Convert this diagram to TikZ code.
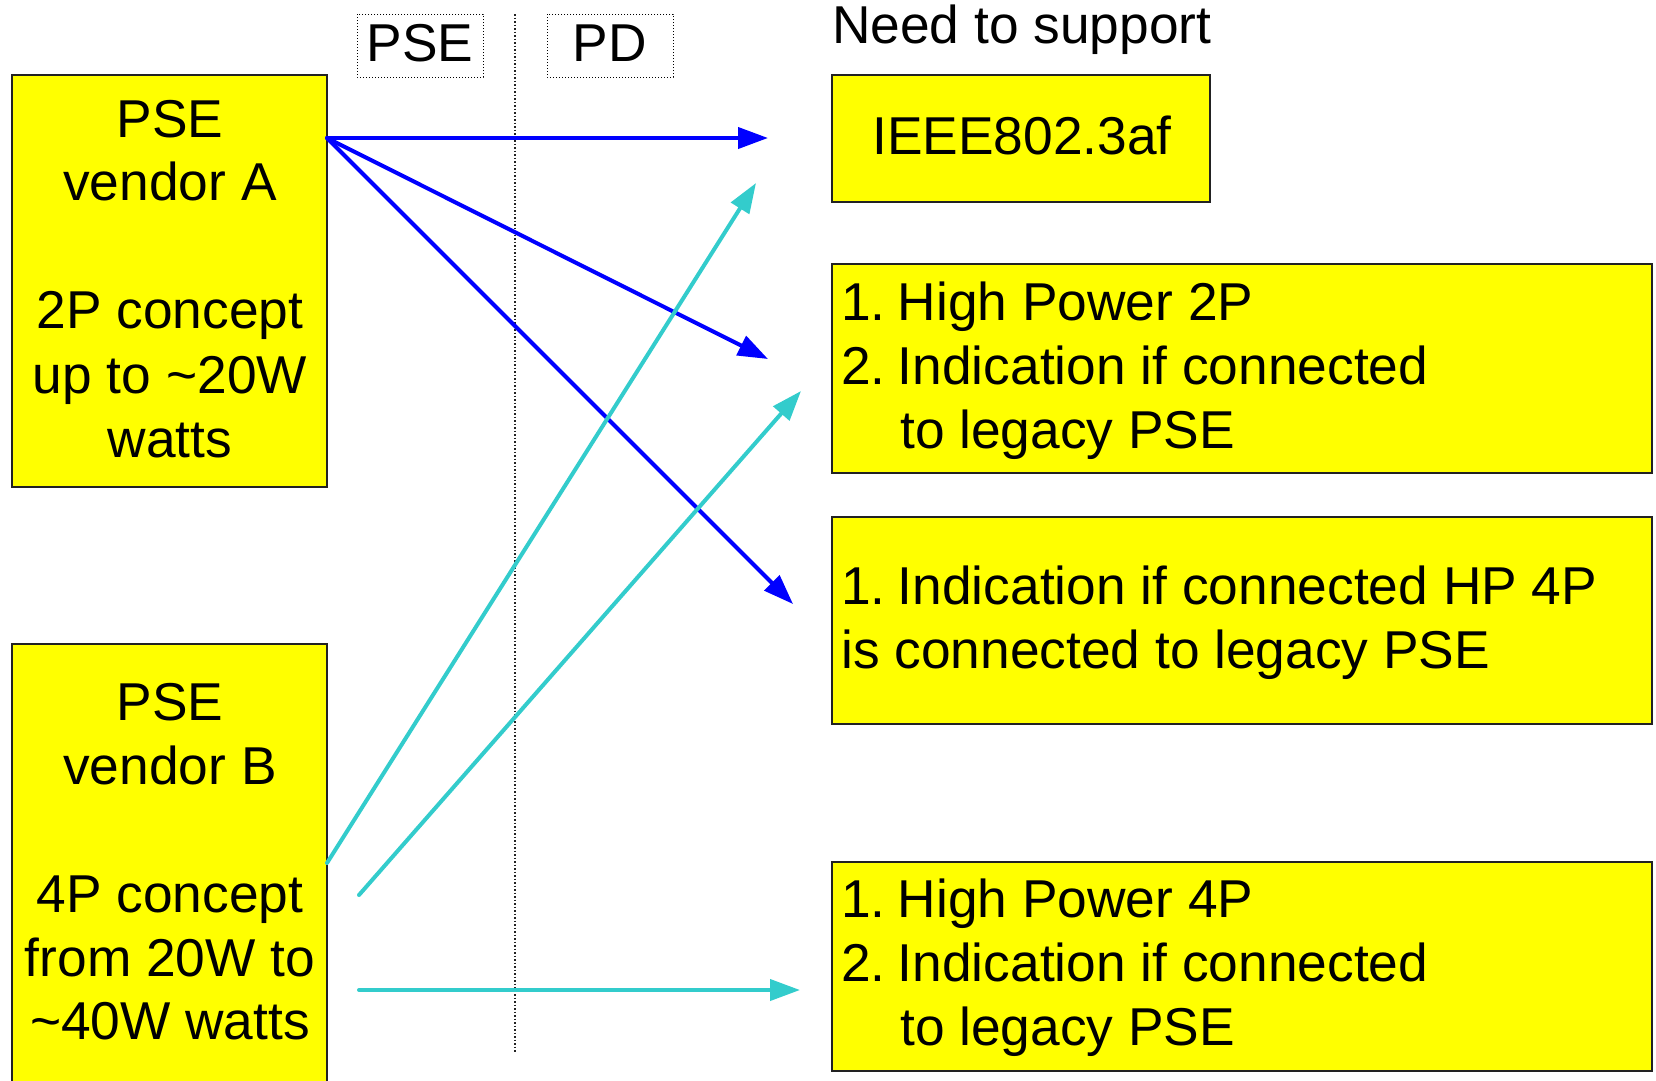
\documentclass[tikz,border=0pt]{standalone}
\usepackage{fontspec}
\setmainfont{Liberation Sans}
\usetikzlibrary{arrows.meta}

\definecolor{boxyellow}{RGB}{255,255,0}
\definecolor{linkblue}{RGB}{0,0,255}
\definecolor{linkcyan}{RGB}{51,204,204}
\definecolor{edgegray}{RGB}{34,34,34}

% list number followed by a narrow gap
\newcommand{\itemno}[1]{#1.\hspace{0.23em}}

\tikzset{
  box/.style={draw=edgegray, line width=1.5pt, fill=boxyellow},
  tag/.style={draw=black, dotted, line width=1pt},
  txt/.style={inner sep=0pt, font=\fontsize{53.3}{64}\selectfont},
  ctr/.style={txt, anchor=base},
  lft/.style={txt, anchor=base west},
  link/.style={line width=4pt, line cap=round, -{Triangle[length=30pt,width=21pt]}},
  bluelink/.style={link, draw=linkblue},
  cyanlink/.style={link, draw=linkcyan},
}

\begin{document}
\begin{tikzpicture}[x=1pt, y=-1pt]
\useasboundingbox (0,0) rectangle (1656,1080);

% PSE / PD split
\draw[edgegray, dotted, line width=1.5pt] (515,14) -- (515,1053);
\draw[tag] (357,14) rectangle (483,77);
\draw[tag] (547,14) rectangle (673,77);
\node[ctr] (tagpse) at (420,61) {PSE};
\node[ctr] (tagpd) at (610,61) {PD};

% PSE vendors
\draw[box] (12,75) rectangle (327,487);
\node[ctr] (a1) at (170,137) {PSE};
\node[ctr] (a2) at (170,200) {vendor A};
\node[ctr] (a3) at (170,328) {2P concept};
\node[ctr] (a4) at (170,393) {up to \textasciitilde20W};
\node[ctr] (a5) at (170,457) {watts};

\draw[box] (12,644) rectangle (327,1090);
\node[ctr] (b1) at (170,720) {PSE};
\node[ctr] (b2) at (170,784) {vendor B};
\node[ctr] (b3) at (170,912) {4P concept};
\node[ctr] (b4) at (170,976) {from 20W to};
\node[ctr] (b5) at (170,1039) {\textasciitilde40W watts};

% PD requirements
\node[lft] (need) at (832,43) {Need to support};

\draw[box] (832,75) rectangle (1210,202);
\node[ctr] (ieee) at (1022,154) {IEEE802.3af};

\draw[box] (832,264) rectangle (1652,473);
\node[lft] (r21) at (841,320) {\itemno{1}High Power 2P};
\node[lft] (r22) at (841,384) {\itemno{2}Indication if connected};
\node[lft] (r23) at (900,448) {to legacy PSE};

\draw[box] (832,517) rectangle (1652,724);
\node[lft] (r31) at (841,604) {\itemno{1}Indication if connected HP 4P};
\node[lft] (r32) at (841,668) {is connected to legacy PSE};

\draw[box] (832,862) rectangle (1652,1071);
\node[lft] (r41) at (841,917) {\itemno{1}High Power 4P};
\node[lft] (r42) at (841,981) {\itemno{2}Indication if connected};
\node[lft] (r43) at (900,1045) {to legacy PSE};

% connector ends
\coordinate (srcA) at (327,138);
\coordinate (srcB1) at (327,863);
\coordinate (srcB2) at (359,895);
\coordinate (srcB3) at (359,990);
\coordinate (toIeee) at (768,138);
\coordinate (to2P) at (768,359);
\coordinate (to4Pind) at (793,604);
\coordinate (toIeeeB) at (756,183);
\coordinate (to2PB) at (801,391);
\coordinate (to4P) at (800,990);

% vendor A links
\draw[bluelink] (srcA) -- (toIeee);
\draw[bluelink] (srcA) -- (to2P);
\draw[bluelink] (srcA) -- (to4Pind);

% vendor B links
\draw[cyanlink] (srcB1) -- (toIeeeB);
\draw[cyanlink] (srcB2) -- (to2PB);
\draw[cyanlink] (srcB3) -- (to4P);
\end{tikzpicture}
\end{document}
